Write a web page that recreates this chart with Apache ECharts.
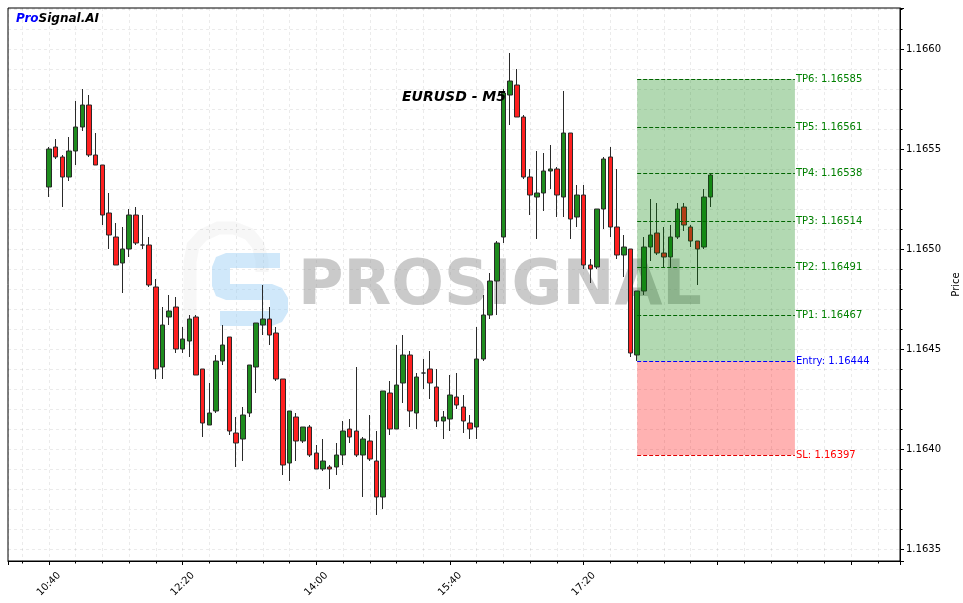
<!DOCTYPE html>
<html><head><meta charset="utf-8">
<script src="https://cdn.jsdelivr.net/npm/echarts@6/dist/echarts.min.js"></script>
<style>html,body{margin:0;padding:0;background:#fff}#c{width:963px;height:603px}</style>
</head><body><div id="c"></div>
<script>
const times = ['10:40','10:45','10:50','10:55','11:00','11:05','11:10','11:15','11:20','11:25',
'11:30','11:35','11:40','11:45','11:50','11:55','12:00','12:05','12:10','12:15',
'12:20','12:25','12:30','12:35','12:40','12:45','12:50','12:55','13:00','13:05',
'13:10','13:15','13:20','13:25','13:30','13:35','13:40','13:45','13:50','13:55',
'14:00','14:05','14:10','14:15','14:20','14:25','14:30','14:35','14:40','14:45',
'14:50','14:55','15:00','15:05','15:10','15:15','15:20','15:25','15:30','15:35',
'15:40','15:45','15:50','15:55','16:00','16:05','16:10','16:15','16:20','16:25',
'16:30','16:35','16:40','16:45','16:50','16:55','17:00','17:05','17:10','17:15',
'17:20','17:25','17:30','17:35','17:40','17:45','17:50','17:55','18:00','18:05',
'18:10','18:15','18:20','18:25','18:30','18:35','18:40','18:45','18:50','18:55'];

const opens = [1.16531,1.16551,1.16546,1.16536,1.16549,1.16561,1.16572,1.16547,1.16542,1.16518,
1.16506,1.16493,1.16500,1.16517,1.16502,1.16502,1.16481,1.16441,1.16466,1.16471,
1.16450,1.16454,1.16466,1.16440,1.16412,1.16419,1.16444,1.16456,1.16408,1.16405,
1.16418,1.16441,1.16462,1.16465,1.16458,1.16435,1.16393,1.16416,1.16404,1.16411,
1.16398,1.16390,1.16391,1.16391,1.16397,1.16410,1.16409,1.16397,1.16404,1.16394,
1.16376,1.16428,1.16410,1.16433,1.16447,1.16418,1.16438,1.16440,1.16431,1.16414,
1.16415,1.16426,1.16421,1.16413,1.16411,1.16445,1.16467,1.16484,1.16506,1.16577,
1.16582,1.16566,1.16536,1.16526,1.16528,1.16539,1.16540,1.16526,1.16558,1.16516,
1.16527,1.16492,1.16491,1.16520,1.16546,1.16511,1.16497,1.16500,1.16447,1.16479,
1.16501,1.16508,1.16498,1.16496,1.16506,1.16521,1.16511,1.16504,1.16501,1.16526];

const highs = [1.16551,1.16555,1.16547,1.16556,1.16574,1.16580,1.16577,1.16558,1.16542,1.16528,
1.16513,1.16511,1.16520,1.16521,1.16517,1.16506,1.16485,1.16471,1.16477,1.16476,
1.16461,1.16467,1.16467,1.16440,1.16433,1.16447,1.16462,1.16456,1.16416,1.16421,
1.16442,1.16463,1.16482,1.16471,1.16461,1.16435,1.16419,1.16418,1.16411,1.16412,
1.16402,1.16405,1.16392,1.16403,1.16414,1.16415,1.16441,1.16406,1.16417,1.16409,
1.16429,1.16434,1.16452,1.16457,1.16449,1.16438,1.16445,1.16449,1.16440,1.16419,
1.16437,1.16438,1.16427,1.16417,1.16461,1.16477,1.16488,1.16504,1.16580,1.16598,
1.16590,1.16567,1.16540,1.16549,1.16548,1.16552,1.16541,1.16579,1.16558,1.16532,
1.16532,1.16495,1.16520,1.16546,1.16551,1.16540,1.16507,1.16500,1.16479,1.16506,
1.16525,1.16523,1.16511,1.16512,1.16523,1.16523,1.16512,1.16504,1.16530,1.16538];

const lows = [1.16526,1.16545,1.16521,1.16534,1.16542,1.16559,1.16546,1.16542,1.16512,1.16500,
1.16492,1.16478,1.16496,1.16502,1.16500,1.16481,1.16435,1.16435,1.16462,1.16448,
1.16448,1.16446,1.16437,1.16406,1.16412,1.16418,1.16442,1.16407,1.16391,1.16394,
1.16416,1.16428,1.16457,1.16452,1.16434,1.16387,1.16384,1.16394,1.16403,1.16396,
1.16390,1.16389,1.16380,1.16387,1.16392,1.16403,1.16396,1.16376,1.16394,1.16367,
1.16370,1.16407,1.16410,1.16423,1.16411,1.16410,1.16430,1.16425,1.16411,1.16405,
1.16409,1.16420,1.16408,1.16405,1.16405,1.16444,1.16465,1.16467,1.16503,1.16562,
1.16566,1.16535,1.16517,1.16505,1.16519,1.16530,1.16516,1.16516,1.16505,1.16511,
1.16490,1.16483,1.16490,1.16510,1.16506,1.16495,1.16486,1.16446,1.16444,1.16477,
1.16494,1.16497,1.16491,1.16491,1.16505,1.16509,1.16501,1.16482,1.16500,1.16521];

const closes = [1.16550,1.16546,1.16536,1.16549,1.16561,1.16572,1.16547,1.16542,1.16517,1.16507,
1.16492,1.16500,1.16517,1.16503,1.16502,1.16482,1.16440,1.16462,1.16469,1.16450,
1.16455,1.16465,1.16437,1.16413,1.16418,1.16444,1.16452,1.16409,1.16403,1.16417,
1.16442,1.16463,1.16465,1.16457,1.16435,1.16392,1.16419,1.16404,1.16411,1.16397,
1.16390,1.16394,1.16390,1.16397,1.16409,1.16406,1.16397,1.16405,1.16395,1.16376,
1.16429,1.16410,1.16432,1.16447,1.16419,1.16436,1.16438,1.16433,1.16414,1.16416,
1.16427,1.16422,1.16414,1.16410,1.16445,1.16467,1.16484,1.16503,1.16578,1.16584,
1.16566,1.16536,1.16527,1.16528,1.16539,1.16540,1.16527,1.16558,1.16515,1.16527,
1.16492,1.16490,1.16520,1.16545,1.16511,1.16497,1.16501,1.16448,1.16479,1.16501,
1.16507,1.16498,1.16496,1.16506,1.16520,1.16512,1.16504,1.16500,1.16526,1.16537];

const levelNames = ['TP6','TP5','TP4','TP3','TP2','TP1','Entry','SL'];
const levelValues = [1.16585,1.16561,1.16538,1.16514,1.16491,1.16467,1.16444,1.16397];
const zoneStartTime = '18:00';
const zoneEndTime = '19:58';
const titleText = 'EURUSD - M5';
const yTickValues = [1.1635,1.1640,1.1645,1.1650,1.1655,1.1660];

const toMin = t => { const p = t.split(':'); return (+p[0]) * 60 + (+p[1]); };
const base = toMin(times[0]);
const off = t => toMin(t) - base;
const lastOff = off(times[times.length - 1]);
const fmtTime = v => { const m = base + v; const h = Math.floor(m / 60), mm = m % 60; return (h < 10 ? '0' : '') + h + ':' + (mm < 10 ? '0' : '') + mm; };

const FONT = 'DejaVu Sans';
const gridLine = { show: true, lineStyle: { color: 'rgba(0,0,0,0.08)', type: [3, 3], width: 1 } };

const candleData = times.map((t, i) => [off(t), opens[i], closes[i], lows[i], highs[i]]);
const zs = off(zoneStartTime), ze = off(zoneEndTime);
const entry = levelValues[levelNames.indexOf('Entry')];
const sl = levelValues[levelNames.indexOf('SL')];
const tpTop = levelValues[0];

const levelColor = n => n === 'Entry' ? '#0000ff' : (n === 'SL' ? '#ff0000' : '#008000');
const lineColor = n => n === 'Entry' ? '#0000ff' : (n === 'SL' ? '#e00000' : '#006400');

const chart = echarts.init(document.getElementById('c'), null, { renderer: 'canvas' });
chart.setOption({
  animation: false,
  backgroundColor: '#ffffff',
  textStyle: { fontFamily: FONT },
  grid: { left: 8, right: 63, top: 8, bottom: 42, show: true, borderColor: '#000', borderWidth: 1,
          backgroundColor: 'transparent', containLabel: false, outerBoundsMode: 'none' },
  xAxis: {
    type: 'value', min: -30.6, max: 636.6, splitNumber: 6,
    axisLine: { show: true, onZero: false, lineStyle: { color: '#000' } },
    axisTick: { show: true, length: 4, lineStyle: { color: '#000' } },
    minorTick: { show: true, splitNumber: 5, length: 2.5, lineStyle: { color: '#000' } },
    splitLine: gridLine,
    minorSplitLine: gridLine,
    axisLabel: {
      rotate: 45, align: 'center', verticalAlign: 'middle', margin: 23,
      fontFamily: FONT, fontSize: 10, color: '#000',
      showMinLabel: false, showMaxLabel: false,
      formatter: v => (v >= 0 && v <= lastOff && Math.abs(v % 100) < 1e-6) ? fmtTime(v) : ''
    }
  },
  yAxis: {
    type: 'value', position: 'right', min: 1.16344, max: 1.166205, splitNumber: 5, scale: true,
    name: 'Price', nameLocation: 'middle', nameRotate: 90, nameGap: 44,
    nameTextStyle: { fontFamily: FONT, fontSize: 10, color: '#000' },
    axisLine: { show: true, onZero: false, lineStyle: { color: '#000' } },
    axisTick: { show: true, length: 4, lineStyle: { color: '#000' } },
    minorTick: { show: true, splitNumber: 5, length: 2.5, lineStyle: { color: '#000' } },
    splitLine: gridLine,
    minorSplitLine: gridLine,
    axisLabel: {
      margin: 6, fontFamily: FONT, fontSize: 10, color: '#000',
      showMinLabel: false, showMaxLabel: false,
      formatter: v => yTickValues.some(t => Math.abs(t - v) < 1e-7) ? v.toFixed(4) : ''
    }
  },
  graphic: [
    { type: 'polyline', z: 1, silent: true,
      shape: { points: [[190,345],[190,262],[193,246],[203,235],[218,228],[234,228],[249,234],[258,245],[262,260],[262,272]] },
      style: { fill: 'none', stroke: 'rgba(0,0,0,0.03)', lineWidth: 13 } },
    { type: 'polygon', z: 1, silent: true,
      shape: { points: [[226,253],[280,253],[280,268],[230,268],[230,284],[272,284],[282,288],[288,298],[288,312],[282,322],[272,326],[220,326],[220,311],[270,311],[270,300],[226,300],[216,296],[212,286],[212,267],[216,257]] },
      style: { fill: 'rgba(150,205,245,0.45)' } },
    { type: 'text', z: 1, silent: true, left: 298, top: 257,
      style: { text: 'PROSIGNAL', font: 'bold 62px "DejaVu Sans"', fill: 'rgba(150,150,150,0.5)' } },
    { type: 'text', z: 10, silent: true, left: 16, top: 13,
      style: { text: '{a|Pro}{b|Signal.AI}', rich: {
        a: { font: 'italic bold 12px "DejaVu Sans"', fill: '#0000ff' },
        b: { font: 'italic bold 12px "DejaVu Sans"', fill: '#000000' } } } },
    { type: 'text', z: 10, silent: true, x: 454, y: 97,
      style: { text: titleText, font: 'italic bold 14px "DejaVu Sans"', fill: '#000', align: 'center', verticalAlign: 'middle' } }
  ],
  series: [
    {
      type: 'candlestick', z: 2, barWidth: 5,
      data: candleData,
      encode: { x: 0, y: [1, 2, 3, 4] },
      itemStyle: { color: '#1e8c1e', color0: '#ff2020', borderColor: '#2a2a2a', borderColor0: '#2a2a2a', borderWidth: 1 }
    },
    {
      type: 'line', data: [], z: 4, silent: true,
      markArea: {
        silent: true, z: 4,
        data: [
          [{ coord: [zs, tpTop], itemStyle: { color: 'rgba(0,128,0,0.3)' } }, { coord: [ze, entry] }],
          [{ coord: [zs, entry], itemStyle: { color: 'rgba(255,0,0,0.3)' } }, { coord: [ze, sl] }]
        ]
      },
      markLine: {
        silent: true, z: 5, symbol: ['none', 'none'],
        data: levelNames.map((n, i) => [
          { coord: [zs, levelValues[i]],
            lineStyle: { color: lineColor(n), type: [4, 2], width: 1 },
            label: { show: true, position: 'end', distance: 1, formatter: n + ': ' + levelValues[i].toFixed(5),
                     color: levelColor(n), fontFamily: FONT, fontSize: 10 } },
          { coord: [ze, levelValues[i]] }
        ])
      }
    }
  ]
});
</script>
</body></html>
